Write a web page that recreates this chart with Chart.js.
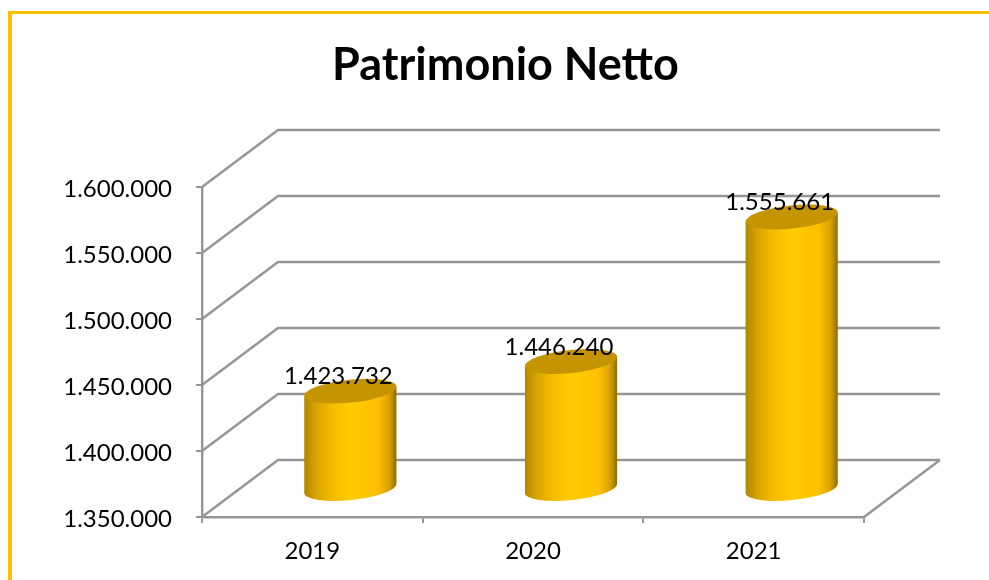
<!DOCTYPE html>
<html>
<head>
<meta charset="utf-8">
<title>Patrimonio Netto</title>
<script src="https://cdn.jsdelivr.net/npm/chart.js@4"></script>
<style>
  html, body { margin: 0; padding: 0; background: #fff; overflow: hidden; }
  #frame { position: absolute; left: 8px; top: 11px; right: 0; bottom: 0; border-left: 4px solid #FFC000; border-top: 3px solid #FFC000; }
  #chart { position: absolute; left: 0; top: 0; }
</style>
</head>
<body>
<div id="frame"></div>
<canvas id="chart" width="989" height="580"></canvas>
<script>
const categories = ['2019', '2020', '2021'];
const values = [1423732, 1446240, 1555661];
const yMin = 1350000;
const yMax = 1600000;
const yStep = 50000;

const FONT = 'Lato, "Open Sans", sans-serif';
const GREY = '#969696';
// depth of the fake 3D floor, in px
const DEPTH_X = 76;
const DEPTH_Y = 57;
const TILT = -0.105;
const RY = 11.5;

const formatIt = v => String(v).replace(/\B(?=(\d{3})+(?!\d))/g, '.');

// side walls and floor lines, hung on the y scale ticks
const wallsPlugin = {
  id: 'walls',
  beforeDatasetsDraw(chart) {
    const { ctx, chartArea: area, scales: { y } } = chart;
    ctx.save();
    ctx.strokeStyle = GREY;
    ctx.lineWidth = 2.4;
    y.ticks.forEach(t => {
      const py = y.getPixelForValue(t.value);
      ctx.beginPath();
      ctx.moveTo(area.left, py);
      ctx.lineTo(area.left + DEPTH_X, py - DEPTH_Y);
      ctx.lineTo(area.right + DEPTH_X, py - DEPTH_Y);
      ctx.stroke();
    });
    ctx.beginPath();
    ctx.moveTo(area.right + DEPTH_X, area.bottom - DEPTH_Y);
    ctx.lineTo(area.right, area.bottom);
    ctx.stroke();
    ctx.restore();
  }
};

// the bars are cylinders standing halfway into the floor
const cylinderPlugin = {
  id: 'cylinders',
  afterDatasetsDraw(chart) {
    const { ctx, scales: { y } } = chart;
    const meta = chart.getDatasetMeta(0);
    meta.data.forEach((bar, i) => {
      const cx = bar.x + DEPTH_X / 2;
      const topY = bar.y - DEPTH_Y / 2;
      const baseY = y.getPixelForValue(yMin) - DEPTH_Y / 2;
      const rx = bar.width / 2;
      const dx = rx * Math.cos(TILT);
      const dy = rx * Math.sin(TILT);

      const grad = ctx.createLinearGradient(cx - dx, 0, cx + dx, 0);
      grad.addColorStop(0, '#B08600');
      grad.addColorStop(0.12, '#D6A200');
      grad.addColorStop(0.3, '#F5BC00');
      grad.addColorStop(0.5, '#FFCC00');
      grad.addColorStop(0.8, '#FFBF00');
      grad.addColorStop(0.92, '#D9A300');
      grad.addColorStop(1, '#8E6C00');

      ctx.save();
      ctx.fillStyle = grad;
      ctx.beginPath();
      ctx.moveTo(cx - dx, topY - dy);
      ctx.lineTo(cx - dx, baseY - dy);
      ctx.ellipse(cx, baseY, rx, RY, TILT, Math.PI, 0, true);
      ctx.lineTo(cx + dx, topY + dy);
      ctx.closePath();
      ctx.fill();

      ctx.fillStyle = '#C49500';
      ctx.beginPath();
      ctx.ellipse(cx, topY, rx, RY, TILT, 0, Math.PI * 2);
      ctx.fill();

      ctx.fillStyle = '#000';
      ctx.font = '24px ' + FONT;
      ctx.textAlign = 'center';
      ctx.textBaseline = 'middle';
      ctx.fillText(formatIt(values[i]), bar.x + 26, bar.y - 43);
      ctx.restore();
    });
  }
};

new Chart(document.getElementById('chart'), {
  type: 'bar',
  data: {
    labels: categories,
    datasets: [{
      data: values,
      backgroundColor: 'transparent',
      borderWidth: 0,
      barPercentage: 0.42,
      categoryPercentage: 1
    }]
  },
  options: {
    responsive: false,
    animation: false,
    layout: { padding: { left: 22, right: 0, top: 0, bottom: 0 } },
    plugins: {
      legend: { display: false },
      tooltip: { enabled: false },
      title: {
        display: true,
        text: 'Patrimonio Netto',
        color: '#000',
        font: { family: FONT, size: 45, weight: 'bold', lineHeight: 1.2 },
        padding: { top: 38, bottom: 95 }
      }
    },
    scales: {
      x: {
        afterFit(scale) { scale.height = 63; },
        border: { color: GREY, width: 2.4 },
        grid: { drawOnChartArea: false, color: GREY, lineWidth: 2, tickLength: 6 },
        ticks: { color: '#000', font: { family: FONT, size: 24 }, padding: 14, maxRotation: 0 }
      },
      y: {
        min: yMin,
        max: yMax,
        afterFit(scale) { scale.width = 180; },
        border: { color: GREY, width: 2.4 },
        grid: { drawOnChartArea: false, color: GREY, lineWidth: 2, tickLength: 6 },
        ticks: {
          stepSize: yStep,
          color: '#000',
          font: { family: FONT, size: 24 },
          padding: 24,
          labelOffset: 2,
          callback: v => formatIt(v)
        }
      },
      // empty axis that only reserves the space right of the plot
      spacer: {
        position: 'right',
        afterFit(scale) { scale.width = 125; },
        border: { display: false },
        grid: { display: false },
        ticks: { display: false }
      }
    }
  },
  plugins: [wallsPlugin, cylinderPlugin]
});
</script>
</body>
</html>
